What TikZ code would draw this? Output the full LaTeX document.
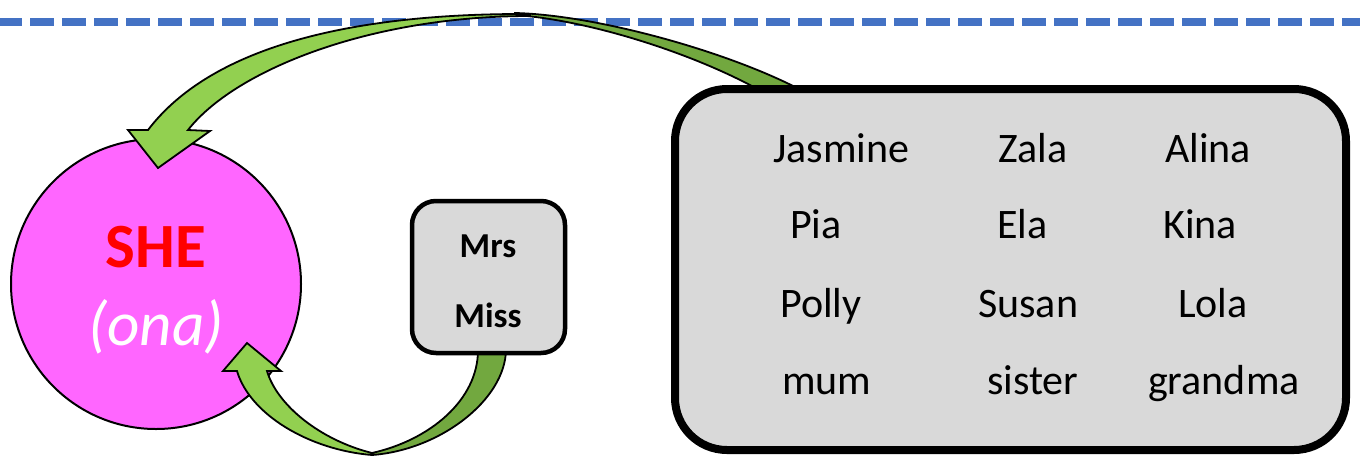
\documentclass[tikz,border=0pt]{standalone}
\usepackage{fontspec}
\setmainfont{Carlito}
\definecolor{dashblue}{HTML}{4472C4}
\definecolor{lightgrn}{HTML}{92D050}
\definecolor{darkgrn}{HTML}{72A83F}
\definecolor{pinkfill}{HTML}{FF66FF}
\definecolor{boxgray}{HTML}{D9D9D9}
\definecolor{shered}{HTML}{FF0000}
\tikzset{
  bandlight/.style={fill=lightgrn, draw=black, line width=1.8pt, line join=miter},
  banddark/.style={fill=darkgrn, draw=black, line width=1.8pt, line join=miter},
  namebox/.style={draw=black, fill=boxgray, rectangle, inner sep=0pt},
  nametext/.style={font=\fontsize{42}{48}\selectfont, anchor=base west, inner sep=0pt},
  titletext/.style={font=\fontsize{35}{40}\selectfont\bfseries, anchor=base, inner sep=0pt},
}
\begin{document}
\begin{tikzpicture}[x=1pt,y=-1pt]
\useasboundingbox (0,0) rectangle (1360,456);
% dashed line
\coordinate (dl) at (0,22);
\coordinate (dr) at (1360,22);
\draw[dashblue, line width=8pt, dash pattern=on 24pt off 8pt, dash phase=2pt] (dl) -- (dr);
% circle
\node[circle, draw=black, fill=pinkfill, line width=2pt, minimum size=290pt, inner sep=0pt] (she) at (156,284) {};
% dark parts of arrows (under boxes)
\fill[banddark] (515,13) .. controls (600,15) and (740,55) .. (810,95) -- (768,95) .. controls (700,55) and (590,20) .. (515,15) -- cycle;
\fill[banddark] (372,455) .. controls (440,450) and (505,400) .. (506,350) -- (478,350) .. controls (478,400) and (430,440) .. (372,453) -- cycle;
% boxes
\node[namebox, line width=8pt, rounded corners=52pt, minimum width=671pt, minimum height=361pt] (names) at (1010.5,269.5) {};
\node[namebox, line width=4.5pt, rounded corners=24pt, minimum width=153pt, minimum height=152pt] (titles) at (488.5,277) {};
% light parts of arrows (on top)
\fill[bandlight] (530,14) .. controls (330,13) and (205,55) .. (148,130) -- (128,130) -- (158,168) -- (210,131) -- (188,130) .. controls (235,70) and (370,16) .. (530,16) -- cycle;
\fill[bandlight] (372,455) .. controls (310,450) and (250,415) .. (237,371) -- (223,371) -- (247,343) -- (281,371) -- (267,371) .. controls (277,405) and (320,440) .. (372,453) -- cycle;
% circle texts
\node[anchor=base, inner sep=0pt, text=shered, font=\fontsize{63}{70}\selectfont\bfseries] (sheword) at (156,267) {SHE};
\node[anchor=base, inner sep=0pt, text=white, font=\fontsize{63}{70}\selectfont\itshape] (ona) at (156,345) {(ona)};
% title texts
\node[titletext] (mrs) at (488,257) {Mrs};
\node[titletext] (miss) at (488,327) {Miss};
% names
\node[nametext] (jasmine) at (773,162) {Jasmine};
\node[nametext] (zala) at (998,162) {Zala};
\node[nametext] (alina) at (1165,162) {Alina};
\node[nametext] (pia) at (790,238) {Pia};
\node[nametext] (ela) at (997,238) {Ela};
\node[nametext] (kina) at (1163,238) {Kina};
\node[nametext] (polly) at (780,317) {Polly};
\node[nametext] (susan) at (978,317) {Susan};
\node[nametext] (lola) at (1178,317) {Lola};
\node[nametext] (mum) at (782,394) {mum};
\node[nametext] (sister) at (987,394) {sister};
\node[nametext] (grandma) at (1148,394) {grandma};
\end{tikzpicture}
\end{document}
